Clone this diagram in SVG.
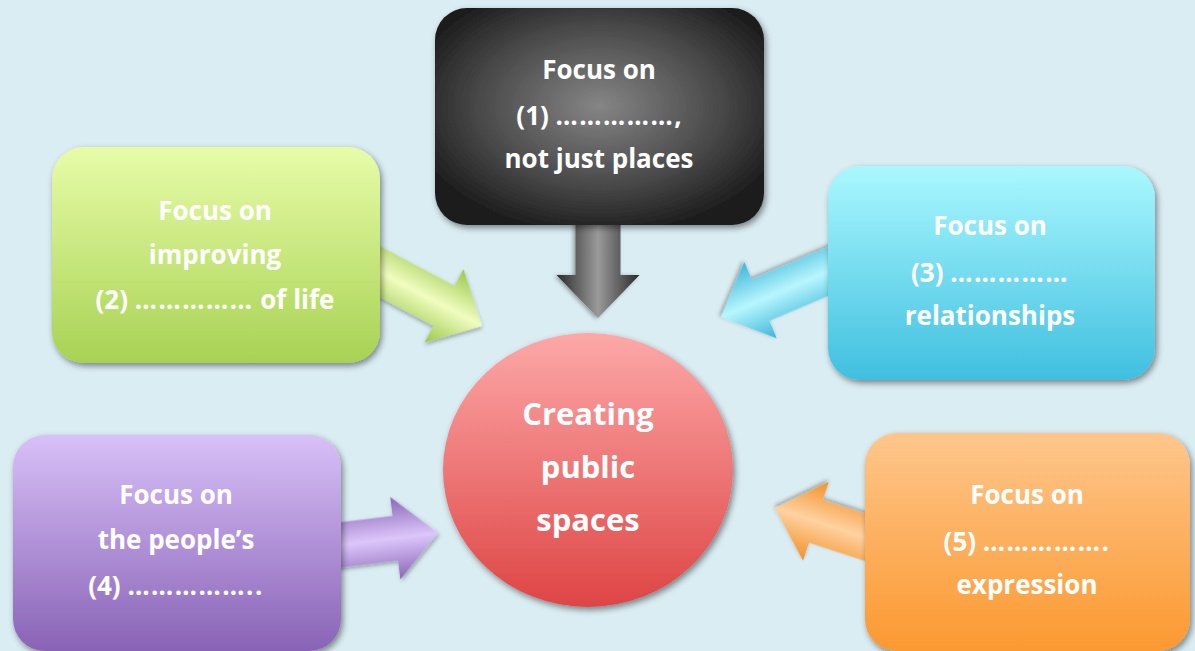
<svg xmlns="http://www.w3.org/2000/svg" width="1195" height="651" viewBox="0 0 1195 651">
<defs>
<style>
.t{font-family:"Open Sans","Noto Sans","Liberation Sans",sans-serif;font-weight:bold;font-size:26px;fill:#ffffff;text-anchor:middle}
.big{font-size:31px}
.d{letter-spacing:1.5px}
.box{filter:url(#sh)}
</style>
<filter id="sh" x="-20%" y="-20%" width="140%" height="140%">
<feDropShadow dx="2" dy="3" stdDeviation="3" flood-color="#000" flood-opacity="0.45"/>
</filter>
<filter id="ash" x="-20%" y="-30%" width="140%" height="160%">
<feDropShadow dx="1" dy="2" stdDeviation="2" flood-color="#000" flood-opacity="0.35"/>
</filter>
<radialGradient id="gBlack" cx="0.5" cy="0.45" r="0.6">
<stop offset="0" stop-color="#858585"/><stop offset="0.6" stop-color="#4a4a4a"/><stop offset="1" stop-color="#1c1c1c"/>
</radialGradient>
<linearGradient id="gGreen" x1="0" y1="0" x2="0" y2="1">
<stop offset="0" stop-color="#e8fca8"/><stop offset="1" stop-color="#a8d254"/>
</linearGradient>
<linearGradient id="gCyan" x1="0" y1="0" x2="0" y2="1">
<stop offset="0" stop-color="#aaf8fe"/><stop offset="1" stop-color="#40bfe0"/>
</linearGradient>
<linearGradient id="gPurple" x1="0" y1="0" x2="0" y2="1">
<stop offset="0" stop-color="#d8c0f8"/><stop offset="1" stop-color="#8963b6"/>
</linearGradient>
<linearGradient id="gOrange" x1="0" y1="0" x2="0" y2="1">
<stop offset="0" stop-color="#fec68c"/><stop offset="1" stop-color="#fb9930"/>
</linearGradient>
<linearGradient id="gRed" x1="0" y1="0" x2="0" y2="1">
<stop offset="0" stop-color="#fda8a8"/><stop offset="1" stop-color="#de4545"/>
</linearGradient>
<linearGradient id="aBlack" x1="0" y1="0" x2="0" y2="1">
<stop offset="0" stop-color="#2a2a2a"/><stop offset="0.5" stop-color="#9a9a9a"/><stop offset="1" stop-color="#2a2a2a"/>
</linearGradient>
<linearGradient id="aGreen" x1="0" y1="0" x2="0" y2="1">
<stop offset="0" stop-color="#9cc84a"/><stop offset="0.5" stop-color="#f0fdc0"/><stop offset="1" stop-color="#9cc84a"/>
</linearGradient>
<linearGradient id="aCyan" x1="0" y1="0" x2="0" y2="1">
<stop offset="0" stop-color="#3ab6d8"/><stop offset="0.5" stop-color="#b8f6fe"/><stop offset="1" stop-color="#3ab6d8"/>
</linearGradient>
<linearGradient id="aPurple" x1="0" y1="0" x2="0" y2="1">
<stop offset="0" stop-color="#8a66b8"/><stop offset="0.5" stop-color="#dcc6fa"/><stop offset="1" stop-color="#8a66b8"/>
</linearGradient>
<linearGradient id="aOrange" x1="0" y1="0" x2="0" y2="1">
<stop offset="0" stop-color="#f39028"/><stop offset="0.5" stop-color="#fed2a0"/><stop offset="1" stop-color="#f39028"/>
</linearGradient>
<path id="arrow" d="M0,0 L-43,-41.5 L-43,-22.5 L-130,-22.5 L-130,22.5 L-43,22.5 L-43,41.5 Z"/>
</defs>
<rect width="1195" height="651" fill="#daedf3"/>
<g id="connectors">
<use href="#arrow" transform="translate(598,318) rotate(90)" fill="url(#aBlack)" filter="url(#ash)"/>
<use href="#arrow" transform="translate(482,326) rotate(28)" fill="url(#aGreen)" filter="url(#ash)"/>
<use href="#arrow" transform="translate(721,317) rotate(157)" fill="url(#aCyan)" filter="url(#ash)"/>
<use href="#arrow" transform="translate(438,533) rotate(-7)" fill="url(#aPurple)" filter="url(#ash)"/>
<use href="#arrow" transform="translate(775,508) rotate(198)" fill="url(#aOrange)" filter="url(#ash)"/>
</g>
<g id="node-1">
<rect class="box" x="435" y="8" width="329" height="217" rx="32" fill="url(#gBlack)"/>
<text class="t" x="599" y="79">Focus on</text>
<text class="t" x="599" y="125">(1) <tspan class="d">……………</tspan>,</text>
<text class="t" x="599" y="168">not just places</text>
</g>
<g id="node-2">
<rect class="box" x="52" y="147" width="328" height="216" rx="32" fill="url(#gGreen)"/>
<text class="t" x="215" y="220">Focus on</text>
<text class="t" x="215" y="264">improving</text>
<text class="t" x="215" y="309">(2) <tspan class="d">……………</tspan> of life</text>
</g>
<g id="node-3">
<rect class="box" x="828" y="166" width="327" height="214" rx="32" fill="url(#gCyan)"/>
<text class="t" x="990" y="235">Focus on</text>
<text class="t" x="990" y="282">(3) <tspan class="d">……………</tspan></text>
<text class="t" x="990" y="325">relationships</text>
</g>
<g id="node-4">
<rect class="box" x="13" y="435" width="328" height="216" rx="32" fill="url(#gPurple)"/>
<text class="t" x="176" y="504">Focus on</text>
<text class="t" x="176" y="549">the people’s</text>
<text class="t" x="176" y="595">(4) <tspan class="d">……………..</tspan></text>
</g>
<g id="node-5">
<rect class="box" x="865" y="433" width="325" height="218" rx="32" fill="url(#gOrange)"/>
<text class="t" x="1027" y="504">Focus on</text>
<text class="t" x="1027" y="551">(5) <tspan class="d">…………….</tspan></text>
<text class="t" x="1027" y="594">expression</text>
</g>
<g id="node-center">
<ellipse class="box" cx="588" cy="470" rx="145" ry="137" fill="url(#gRed)"/>
<text class="t big" x="588" y="425">Creating</text>
<text class="t big" x="588" y="478">public</text>
<text class="t big" x="588" y="531">spaces</text>
</g>
</svg>
